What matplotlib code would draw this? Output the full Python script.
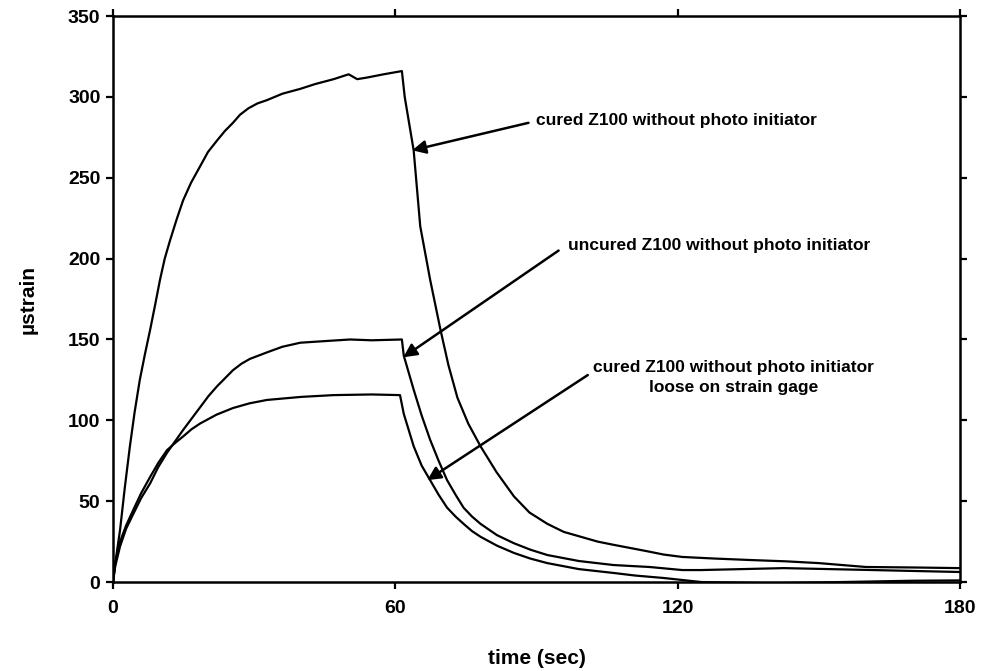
import numpy as np
import matplotlib
matplotlib.use("Agg")
import matplotlib.pyplot as plt

plt.rcParams['font.family'] = ['Liberation Sans', 'DejaVu Sans']
plt.rcParams['font.weight'] = 'bold'

# cured Z100 without photo initiator
t_cured = [0, 0.5, 1.5, 2.5, 3.6, 4.6, 5.7, 6.8, 7.9, 9, 10, 11, 12.1, 13.5, 14.9,
           16.6, 18.5, 20.2, 22.1, 23.8, 25.5, 27, 28.8, 30.7, 32.7, 36, 39.8, 43,
           46.9, 49, 50.1, 51.9, 54, 57.5, 61.4, 62, 63.9, 65.3, 67.4, 69.6, 71.3,
           73.2, 75.5, 78.1, 81.5, 85.2, 88.5, 92.3, 95.8, 99.4, 103, 106.4, 110,
           113.6, 117, 121, 128, 135.5, 143, 150, 160, 170, 180]
v_cured = [0, 12, 32, 58, 84, 105, 125, 141, 156, 172, 187, 200, 211, 224, 236,
           247, 257, 266, 273, 279, 284, 289, 293, 296, 298, 302, 305, 308,
           311, 313, 314, 311, 312, 314, 316, 300, 267, 220, 187, 156, 134,
           114, 98, 84, 68, 53, 43, 36, 31, 28, 25, 23, 21,
           19, 17, 15.5, 14.5, 13.6, 12.8, 11.7, 9.3, 9, 8.6]

# uncured Z100 without photo initiator
t_uncured = [0, 0.5, 1.5, 2.8, 4.3, 6, 7.9, 9.6, 11.5, 13.2, 14.9, 16.7, 18.5, 20.3,
             22.1, 23.8, 25.5, 27.3, 29.1, 32.7, 36, 39.8, 45, 50.4, 55, 61.4, 61.8,
             63.9, 65.6, 67.4, 69.2, 71, 72.8, 74.5, 76.3, 78.1, 81.6, 85.2, 88.7,
             92.3, 99, 106.4, 114, 121, 124.9, 142.6, 160, 180]
v_uncured = [0, 10, 22, 33, 42, 52, 61, 71, 80, 87, 94, 101, 108, 115,
             121, 126, 131, 135, 138, 142, 145.5, 148, 149, 150, 149.5, 150, 140,
             119, 103, 88, 75, 63, 54, 46, 40.5, 36, 29, 24, 20,
             16.7, 13, 10.5, 9.3, 7.4, 7.4, 8.6, 7.5, 6.2]

# cured Z100 without photo initiator, loose on strain gage
t_loose = [0, 0.5, 1.5, 2.8, 4.3, 6, 7.9, 9.7, 11.5, 13.2, 14.9, 16.7, 18.5, 22,
           25.5, 29, 32.7, 40, 46.9, 55, 61, 61.8, 63.9, 65.6, 67.4, 69.2, 71, 72.8,
           74.5, 76.3, 78.1, 81.6, 85.2, 88.7, 92.3, 99, 106.4, 111, 117, 125, 140,
           155, 170, 180]
v_loose = [0, 12, 25, 35, 44.5, 55, 65, 74, 81.6, 86, 90, 94.5, 98, 103.5,
           107.6, 110.5, 112.6, 114.5, 115.6, 116, 115.6, 104, 84, 72, 63, 54, 46, 40.5,
           36, 31.5, 28, 22.5, 18, 14.5, 11.7, 8, 5.6, 4, 2.5, 0, -0.8,
           0, 0.8, 1]

fig = plt.figure(figsize=(9.84, 6.71), dpi=100)
ax = fig.add_axes([0.1148, 0.1326, 0.8608, 0.8434])

lw = 1.6
ax.plot(t_cured, v_cured, color='black', lw=lw)
ax.plot(t_uncured, v_uncured, color='black', lw=lw)
ax.plot(t_loose, v_loose, color='black', lw=lw)

ax.set_xlim(0, 180)
ax.set_ylim(0, 350)
ax.set_xticks([0, 60, 120, 180])
ax.set_yticks(np.arange(0, 351, 50))
for s in ax.spines.values():
    s.set_linewidth(1.8)
ax.tick_params(axis='both', which='major', direction='out', length=5, width=1.6,
               labelsize=14, top=True, right=True, labeltop=False, labelright=False)
ax.tick_params(axis='y', pad=4)
ax.tick_params(axis='x', pad=8)
for lab in ax.get_xticklabels() + ax.get_yticklabels():
    lab.set_fontweight('bold')

ax.set_xlabel('time (sec)', fontsize=15, fontweight='bold', labelpad=23)
ax.set_ylabel('µstrain', fontsize=15, fontweight='bold', labelpad=22)

arrow = dict(arrowstyle='-|>', lw=1.8, color='black', mutation_scale=20,
             shrinkA=0, shrinkB=0)
ax.annotate('', xy=(63.6, 267), xytext=(88.3, 284), arrowprops=arrow)
ax.annotate('', xy=(61.7, 139), xytext=(94.7, 205), arrowprops=arrow)
ax.annotate('', xy=(66.8, 63), xytext=(100.9, 128), arrowprops=arrow)

ax.text(89.8, 285.7, 'cured Z100 without photo initiator', fontsize=12.5,
        fontweight='bold', ha='left', va='center')
ax.text(96.6, 208.4, 'uncured Z100 without photo initiator', fontsize=12.5,
        fontweight='bold', ha='left', va='center')
ax.text(131.8, 126.5, 'cured Z100 without photo initiator\nloose on strain gage',
        fontsize=12.5, fontweight='bold', ha='center', va='center', linespacing=1.35)

fig.savefig('out.png', dpi=100)
